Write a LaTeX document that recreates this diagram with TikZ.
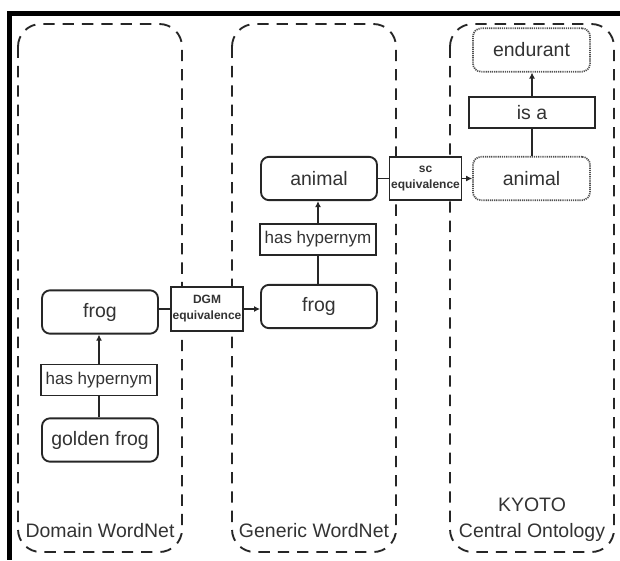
\documentclass[tikz,border=0pt]{standalone}
\usepackage{fontspec}
\setmainfont{Liberation Sans}
\usetikzlibrary{arrows.meta}
\definecolor{ink}{HTML}{262626}
\definecolor{txt}{HTML}{333333}
\begin{document}
\begin{tikzpicture}[x=0.75pt,y=-0.75pt,
  group/.style={draw=ink, line width=1.4pt, dash pattern=on 8.5pt off 6pt, rounded corners=17pt},
  term/.style={draw=ink, line width=1.4pt, fill=white, rounded corners=6pt,
    minimum width=87pt, minimum height=32.5pt, inner sep=0pt, text=txt,
    font=\fontsize{14.6}{17.5}\selectfont},
  concept/.style={term, draw=ink!80, line width=1.3pt, dash pattern=on 0.9pt off 0.7pt},
  relation/.style={draw=ink, line width=1.4pt, fill=white, minimum width=87pt,
    minimum height=23.25pt, inner sep=0pt, text=txt, font=\fontsize{12.75}{15}\selectfont},
  equiv/.style={draw=ink, line width=1.4pt, fill=white, minimum width=54pt,
    minimum height=32.5pt, inner sep=0pt, align=center, text=txt,
    font=\fontsize{9}{12}\selectfont\bfseries},
  grouplabel/.style={text=txt, align=center, inner sep=0pt,
    font=\fontsize{14.6}{19.5}\selectfont},
  link/.style={draw=ink, line width=1.1pt},
  arrowlink/.style={link, -{Latex[length=4.5pt,width=4.5pt]}}]
\useasboundingbox (0,0) rectangle (620,560);

% heavy frame along the top and left edges
\fill[black] (7,11) rectangle (620,16);
\fill[black] (7,11) rectangle (12,560);

% the three resource groups
\draw[group] (18,24) rectangle (182,552);
\draw[group] (232,24) rectangle (396,552);
\draw[group] (450,24) rectangle (614,552);

\node[grouplabel] (domlabel) at (100,531) {Domain WordNet};
\node[grouplabel] (genlabel) at (314,531) {Generic WordNet};
\node[grouplabel] (kyolabel) at (532,520) {KYOTO\\Central Ontology};

% Domain WordNet
\node[term] (dfrog) at (100,312) {frog};
\node[relation] (dhyp) at (99,380) {has hypernym};
\node[term] (golden) at (100,440) {golden frog};

% Generic WordNet
\node[term] (ganimal) at (319,178.5) {animal};
\node[relation] (ghyp) at (318,239.5) {has hypernym};
\node[term] (gfrog) at (319,306.5) {frog};

% KYOTO central ontology
\node[concept, minimum width=87.75pt] (endurant) at (531.5,50) {endurant};
\node[relation, minimum width=94.5pt, font=\fontsize{14.6}{17.5}\selectfont] (isa) at (532,112.5) {is a};
\node[concept, minimum width=87.75pt] (kanimal) at (531.5,178.5) {animal};

% mappings between groups
\node[equiv] (dgm) at (207,309) {DGM\\equivalence};
\node[equiv] (sc) at (425.5,178.5) {sc\\equivalence};

% relations inside each group
\draw[link] (golden.north -| dhyp) -- (dhyp.south);
\draw[arrowlink] (dhyp.north) -- (dhyp.north |- dfrog.south);
\draw[link] (gfrog.north -| ghyp) -- (ghyp.south);
\draw[arrowlink] (ghyp.north) -- (ghyp.north |- ganimal.south);
\draw[link] (kanimal.north -| isa) -- (isa.south);
\draw[arrowlink] (isa.north) -- (isa.north |- endurant.south);

% equivalence links
\draw[link] (dfrog.east |- dgm) -- (dgm.west);
\draw[arrowlink] (dgm.east) -- (dgm.east -| gfrog.west);
\draw[link] (ganimal.east) -- (sc.west);
\draw[arrowlink] (sc.east) -- (kanimal.west);
\end{tikzpicture}
\end{document}
